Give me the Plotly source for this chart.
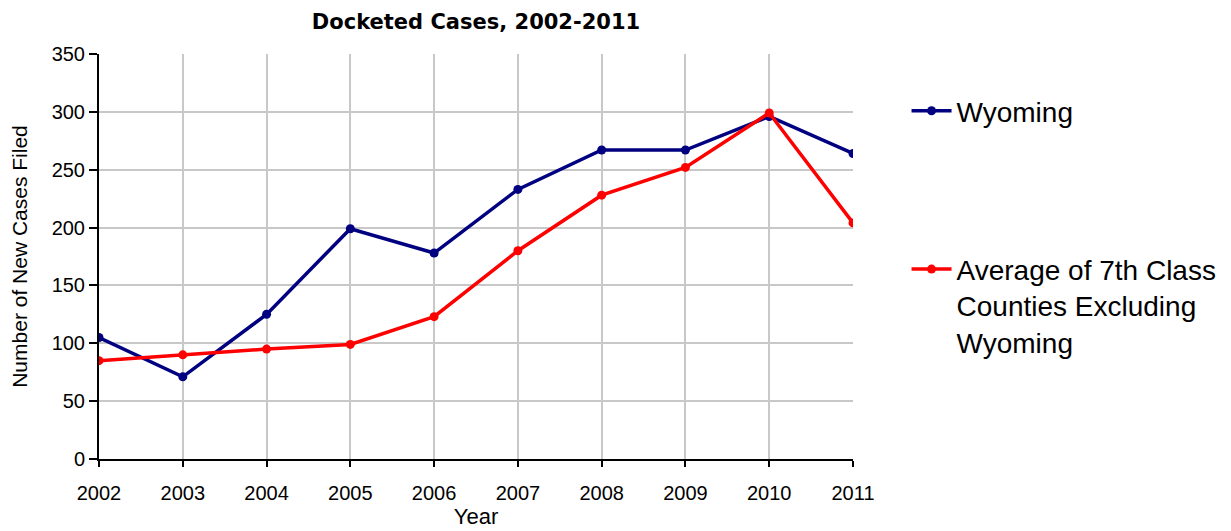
import plotly.graph_objects as go

years = [2002, 2003, 2004, 2005, 2006, 2007, 2008, 2009, 2010, 2011]
wyoming = [105, 71, 125, 199, 178, 233, 267, 267, 296, 264]
average_7th = [85, 90, 95, 99, 123, 180, 228, 252, 299, 204]

font_family = "Liberation Sans, Arial, sans-serif"

# page body has an 8px margin; compensate so the plot area lands at 99..853 x 54..459
L, T = 91, 46
PW, PH = 754, 405

fig = go.Figure()
fig.add_trace(go.Scatter(
    x=years, y=wyoming, mode="lines+markers", name="Wyoming",
    line=dict(color="#000080", width=3.5), marker=dict(size=9, color="#000080"),
    legendgroup="a",
))
fig.add_trace(go.Scatter(
    x=years, y=average_7th, mode="lines+markers",
    name="Average of 7th Class<br>Counties Excluding<br>Wyoming",
    line=dict(color="#FF0000", width=3.5), marker=dict(size=9, color="#FF0000"),
    legendgroup="b",
))

fig.update_layout(
    width=1231, height=531,
    margin=dict(l=L, r=1231 - L - PW, t=T, b=531 - T - PH, autoexpand=False),
    paper_bgcolor="white", plot_bgcolor="white",
    font=dict(family=font_family, color="black", size=18),
    title=dict(text="<b>Docketed Cases, 2002-2011</b>", x=(L + PW / 2) / 1231, xanchor="center",
               y=1 - 14 / 531, yanchor="middle",
               font=dict(size=21, family="DejaVu Sans, sans-serif")),
    showlegend=True,
    legend=dict(x=1.071, xanchor="left", y=(PH - 32) / PH, yanchor="top",
                font=dict(size=28), tracegroupgap=119, valign="top",
                bgcolor="rgba(0,0,0,0)", itemwidth=40),
)
fig.update_xaxes(
    range=[2002, 2011], tickmode="array", tickvals=years, ticktext=[str(y) for y in years],
    showgrid=True, gridcolor="#C8C8C8", gridwidth=2,
    showline=True, linecolor="black", linewidth=2,
    ticks="outside", ticklen=6, tickcolor="black", tickwidth=1.5,
    ticklabelstandoff=9, automargin=False,
    title=dict(text="Year", standoff=4, font=dict(size=22)), tickfont=dict(size=20), zeroline=False,
)
fig.update_yaxes(
    range=[0, 350], tickvals=list(range(0, 351, 50)),
    showgrid=True, gridcolor="#C8C8C8", gridwidth=2,
    showline=True, linecolor="black", linewidth=2,
    ticks="outside", ticklen=8, tickcolor="black", tickwidth=1.5,
    automargin=False,
    title=dict(text="Number of New Cases Filed", standoff=20, font=dict(size=21)),
    tickfont=dict(size=20), zeroline=False,
)

fig.write_html("out.html")
